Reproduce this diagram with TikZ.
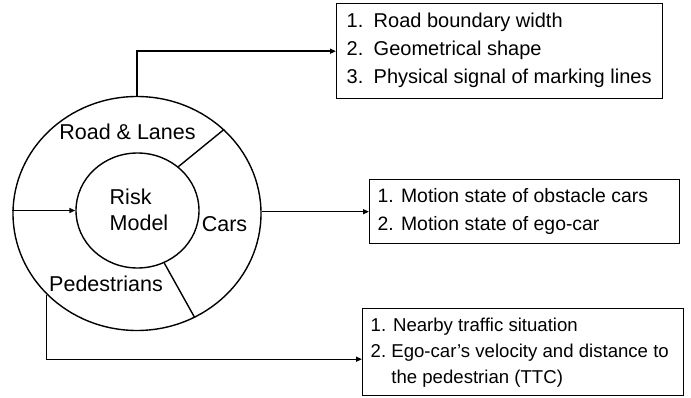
\documentclass[tikz,border=0pt]{standalone}
\usepackage{fontspec}
\setmainfont{Liberation Sans}
\usetikzlibrary{arrows.meta,shapes.geometric}
\begin{document}
\begin{tikzpicture}[x=1pt,y=-1pt,
  line width=1.4pt,
  ring/.style={draw, ellipse, inner sep=0pt},
  lbl/.style={font=\fontsize{21.5}{26}\selectfont, inner sep=0pt},
  infobox/.style={draw, rectangle, anchor=north west, inner sep=0pt},
  boxtext/.style={anchor=west, inner sep=0pt, align=left},
  arr/.style={-{Triangle[length=6pt,width=5pt]}}
]
\useasboundingbox (0,0) rectangle (691,398);

% rings
\node[ring, minimum width=248pt, minimum height=234pt] (outer) at (137,213.5) {};
\node[ring, minimum width=123pt, minimum height=115pt] (inner) at (137.5,210.5) {};

% labels
\node[lbl, anchor=base] (road) at (127.5,140) {Road \& Lanes};
\node[lbl, align=left] (risk) at (139,210) {Risk\\Model};
\node[lbl, anchor=base] (cars) at (224.5,231.5) {Cars};
\node[lbl, anchor=base] (ped) at (106,291.5) {Pedestrians};

% dividers
\draw (inner.47) -- (outer.44);
\draw (inner.-63) -- (outer.-61);
\coordinate (pleft) at (outer.west |- inner.west);
\draw[arr] (pleft) -- (inner.west);

% boxes
\node[infobox, minimum width=326pt, minimum height=95pt] (box1) at (336,3) {};
\node[boxtext] (t1) at (346,50)
  {\fontsize{20}{28}\selectfont\begin{tabular}{@{}p{27pt}@{}l@{}}
   1. & Road boundary width\\
   2. & Geometrical shape\\
   3. & Physical signal of marking lines
   \end{tabular}};

\node[infobox, minimum width=310pt, minimum height=64pt] (box2) at (369,179) {};
\node[boxtext] (t2) at (377,211)
  {\fontsize{19.4}{28}\selectfont\begin{tabular}{@{}l@{}}
   1. Motion state of obstacle cars\\
   2. Motion state of ego-car
   \end{tabular}};

\node[infobox, minimum width=321pt, minimum height=87pt] (box3) at (362,308) {};
\node[boxtext] (t3) at (370,352)
  {\fontsize{18.6}{26}\selectfont\begin{tabular}{@{}l@{\ }l@{}}
   \multicolumn{2}{@{}l@{}}{1. Nearby traffic situation}\\
   2. & Ego-car’s velocity and distance to\\
      & the pedestrian (TTC)
   \end{tabular}};

% connectors
\coordinate (ptop) at (outer.north);
\draw[arr] (ptop) |- (box1.west);
\draw[arr] (outer.east |- box2.west) -- (box2.west);
\coordinate (pped) at (outer.222.5);
\coordinate (pend) at ([yshift=-7pt]box3.west);
\draw[arr] (pped) |- (pend);
\end{tikzpicture}
\end{document}
